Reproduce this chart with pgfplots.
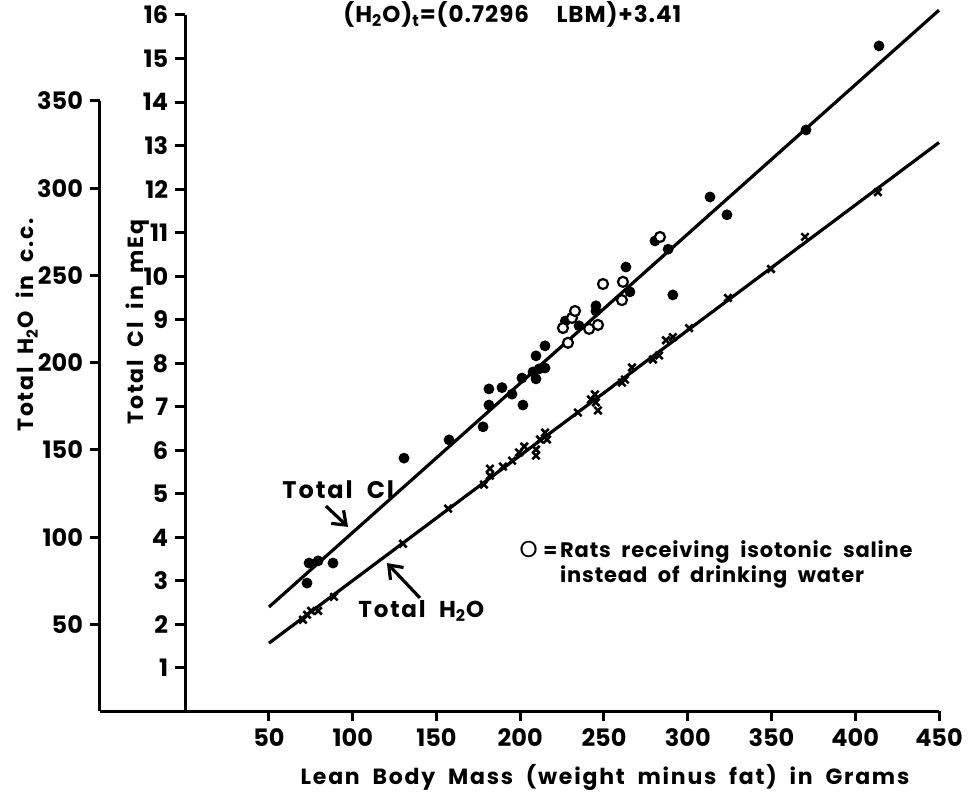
\documentclass[border=0pt]{standalone}
\usepackage{fontspec}
\setmainfont{Poppins}
\newfontfamily\spaced[LetterSpace=8,WordSpace=2]{Poppins}
\newfontfamily\legfont[LetterSpace=4,WordSpace=2]{Poppins}
\usepackage{pgfplots}
\pgfplotsset{compat=1.18}
\usetikzlibrary{arrows.meta}

% Total Cl, filled dots (LBM g, mEq)
\pgfplotstableread{
lbm cl
72.7 2.95
73.9 3.41
79.3 3.46
88.2 3.41
130.6 5.82
157.5 6.24
177.8 6.54
181.3 7.04
181.3 7.41
189.1 7.44
195.1 7.29
201.0 7.66
201.6 7.04
207.6 7.80
209.4 7.64
211.2 7.87
214.8 7.89
209.4 8.17
214.8 8.40
226.9 8.97
235.1 8.86
245.2 9.32
245.2 9.20
263.1 10.21
265.5 9.64
280.4 10.81
288.3 10.62
291.1 9.57
313.3 11.82
323.4 11.41
370.6 13.36
414.2 15.29
}\clfilled

% Total Cl, rats on isotonic saline (open circles)
\pgfplotstableread{
lbm cl
225.5 8.81
230.9 9.04
232.7 9.20
228.5 8.47
241.1 8.79
246.4 8.88
249.4 9.82
261.3 9.87
260.7 9.45
283.4 10.90
}\clopen

% Total H2O in c.c.
\pgfplotstableread{
lbm h2o
70.3 52.6
72.7 55.4
75.1 57.7
79.3 57.7
88.8 65.7
130.0 96.2
156.9 116.3
178.3 130.1
181.9 135.2
181.9 139.2
189.7 140.4
195.1 143.8
199.3 148.5
202.4 151.9
209.4 146.7
209.4 150.2
211.8 155.9
214.8 159.9
216.0 155.9
234.4 171.4
242.2 178.9
244.6 181.8
245.2 177.2
246.4 172.6
260.7 188.6
262.5 190.3
266.7 197.2
279.3 201.8
282.9 204.1
287.0 212.8
291.1 214.6
300.8 219.8
324.0 237.1
349.7 253.7
370.0 272.1
413.5 297.8
}\water

\pgfplotsset{
  oldplot/.style={
    scale only axis, anchor=south west, clip=false,
    axis lines=left,
    axis line style={-, line width=1.5pt},
    tick style={black, line width=1.5pt},
    tick align=outside, major tick length=5pt,
    /pgf/number format/assume math mode=true,
    ticklabel style={font=\bfseries\fontsize{12}{14}\selectfont},
  },
}

\begin{document}
\begin{tikzpicture}
\useasboundingbox (0,0) rectangle (485pt,396pt);

% outer axis: water
\begin{axis}[oldplot,
  at={(50pt,40.25pt)}, width=419.5pt, height=305.25pt,
  xmin=-50.9, xmax=450, ymin=0, ymax=350,
  xtick=\empty, ytick={50,100,...,350}]
\addplot[black, line width=1.6pt] coordinates {(50,39.2) (450,326.2)};
\addplot[only marks, mark=x, mark size=2.6pt, mark options={line width=1.3pt}] table {\water};
\end{axis}

% inner axis: chloride
\begin{axis}[oldplot,
  at={(92.625pt,40.25pt)}, width=376.875pt, height=348.25pt,
  xmin=0, xmax=450, ymin=0, ymax=16,
  xtick={50,100,...,450}, ytick={1,2,...,16}]
\addplot[black, line width=1.6pt] coordinates {(50,2.40) (450,16.11)};
\addplot[only marks, mark=*, mark size=2.5pt] table {\clfilled};
\addplot[only marks, mark=*, mark size=2.5pt, mark options={fill=white, draw=black, line width=1.1pt}] table {\clopen};

\node[anchor=base west, inner sep=0pt, font=\legfont\bfseries\fontsize{11.5}{14}\selectfont]
  at (axis cs:94.2,15.82) {(H\textsubscript{2}O)\textsubscript{t}=(0.7296\hspace{1.2em}LBM)+3.41};
\node[anchor=base west, inner sep=0pt, font=\spaced\bfseries\fontsize{12}{14}\selectfont]
  at (axis cs:57.8,4.90) {Total Cl};
\draw[line width=1.6pt, -{Straight Barb[length=6pt,width=9pt]}] (axis cs:84.0,4.72) -- (axis cs:97.2,4.24);
\node[anchor=base west, inner sep=0pt, font=\spaced\bfseries\fontsize{11.5}{14}\selectfont]
  at (axis cs:103.1,2.15) {Total H\textsubscript{2}O};
\draw[line width=1.6pt, -{Straight Barb[length=6pt,width=9pt]}] (axis cs:140.1,2.61) -- (axis cs:120.4,3.41);
\node[anchor=base west, font=\fontsize{11.5}{14}\selectfont, inner sep=0pt]
  at (axis cs:199.4,3.54) {O};
\node[anchor=base west, font=\bfseries\fontsize{10}{12}\selectfont, inner sep=0pt]
  at (axis cs:213.5,3.54) {=};
\node[anchor=base west, font=\legfont\bfseries\fontsize{10.5}{13}\selectfont, inner sep=0pt]
  at (axis cs:223.6,3.54) {Rats receiving isotonic saline};
\node[anchor=base west, font=\legfont\bfseries\fontsize{10.5}{13}\selectfont, inner sep=0pt]
  at (axis cs:223.6,2.97) {instead of drinking water};
\end{axis}

\node[rotate=90, font=\spaced\bfseries\fontsize{11}{13}\selectfont] at (13.5pt,233.5pt) {Total H\textsubscript{2}O in c.c.};
\node[rotate=90, font=\spaced\bfseries\fontsize{11}{13}\selectfont] at (69pt,235pt) {Total Cl in mEq};
\node[anchor=base, font=\spaced\bfseries\fontsize{11}{13}\selectfont, inner sep=0pt] at (302.5pt,3.5pt) {Lean Body Mass (weight minus fat) in Grams};
\end{tikzpicture}
\end{document}
